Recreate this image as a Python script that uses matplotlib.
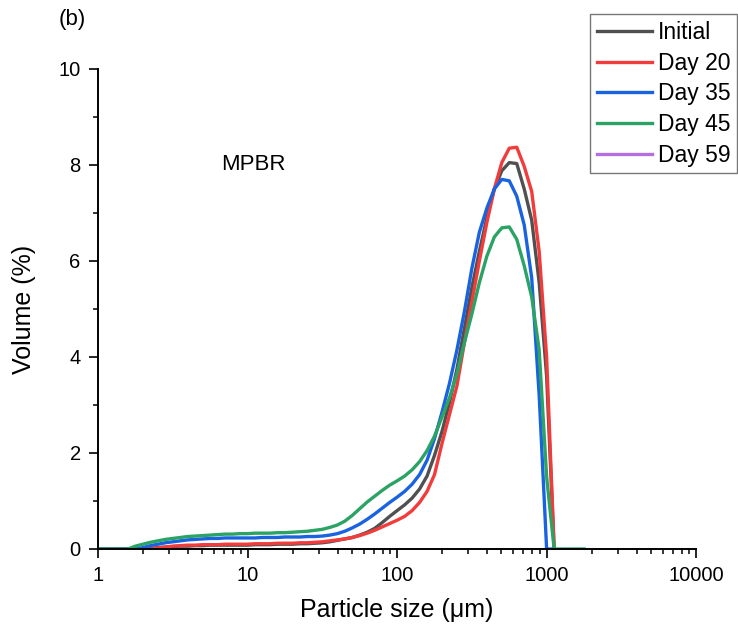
import numpy as np
import matplotlib
matplotlib.use("Agg")
import matplotlib.pyplot as plt
from matplotlib.ticker import LogLocator, FixedLocator, NullFormatter, MultipleLocator

plt.rcParams['font.family'] = ['Liberation Sans', 'DejaVu Sans']

nan = np.nan
# particle size classes (um)
sizes = [1.002, 1.125, 1.262, 1.416, 1.589, 1.782, 2.000, 2.244, 2.518, 2.825,
         3.170, 3.556, 3.990, 4.477, 5.023, 5.636, 6.324, 7.096, 7.962, 8.933,
         10.02, 11.25, 12.62, 14.16, 15.89, 17.82, 20.00, 22.44, 25.18, 28.25,
         31.70, 35.56, 39.90, 44.77, 50.23, 56.36, 63.24, 70.96, 79.62, 89.33,
         100.2, 112.5, 126.2, 141.6, 158.9, 178.2, 200.0, 224.4, 251.8, 282.5,
         317.0, 355.6, 399.0, 447.7, 502.3, 563.6, 632.4, 709.6, 796.2, 893.3,
         1002, 1125, 1262, 1416, 1589, 1782]

initial = [0, 0, 0, 0, 0, 0, 0, 0.01, 0.03, 0.04,
           0.05, 0.06, 0.06, 0.07, 0.07, 0.08, 0.08, 0.08, 0.08, 0.08,
           0.08, 0.09, 0.09, 0.09, 0.10, 0.10, 0.10, 0.11, 0.11, 0.12,
           0.13, 0.15, 0.18, 0.21, 0.24, 0.29, 0.35, 0.43, 0.55, 0.68,
           0.80, 0.92, 1.06, 1.25, 1.52, 1.95, 2.45, 3.05, 3.75, 4.60,
           5.45, 6.20, 6.90, 7.50, 7.88, 8.05, 8.03, 7.50, 6.85, 5.55,
           3.60, 0, nan, nan, nan, nan]

day20 = [0, 0, 0, 0, 0, 0, 0, 0, 0.02, 0.04,
         0.06, 0.07, 0.08, 0.08, 0.09, 0.09, 0.09, 0.10, 0.10, 0.10,
         0.10, 0.11, 0.11, 0.11, 0.12, 0.12, 0.12, 0.13, 0.13, 0.14,
         0.15, 0.17, 0.19, 0.21, 0.24, 0.28, 0.33, 0.39, 0.46, 0.53,
         0.60, 0.68, 0.80, 0.97, 1.20, 1.55, 2.20, 2.80, 3.40, 4.30,
         5.15, 6.00, 6.80, 7.50, 8.05, 8.35, 8.37, 7.97, 7.45, 6.20,
         4.00, 0, nan, nan, nan, nan]

day35 = [0, 0, 0, 0, 0, 0, 0.03, 0.07, 0.10, 0.13,
         0.15, 0.17, 0.19, 0.20, 0.21, 0.22, 0.22, 0.23, 0.23, 0.23,
         0.23, 0.23, 0.24, 0.24, 0.24, 0.25, 0.25, 0.25, 0.26, 0.26,
         0.27, 0.29, 0.32, 0.37, 0.44, 0.52, 0.62, 0.73, 0.85, 0.97,
         1.08, 1.20, 1.35, 1.55, 1.85, 2.30, 2.85, 3.45, 4.15, 4.95,
         5.85, 6.60, 7.10, 7.50, 7.70, 7.67, 7.35, 6.75, 5.65, 3.20,
         0, 0, nan, nan, nan, nan]

day45 = [0, 0, 0, 0, 0, 0.06, 0.10, 0.14, 0.17, 0.20,
         0.22, 0.24, 0.26, 0.27, 0.28, 0.29, 0.30, 0.31, 0.31, 0.32,
         0.32, 0.33, 0.33, 0.33, 0.34, 0.34, 0.35, 0.36, 0.37, 0.39,
         0.41, 0.45, 0.50, 0.58, 0.70, 0.84, 0.98, 1.10, 1.22, 1.33,
         1.42, 1.52, 1.65, 1.82, 2.05, 2.35, 2.75, 3.15, 3.65, 4.30,
         4.90, 5.55, 6.10, 6.50, 6.69, 6.71, 6.45, 5.90, 5.25, 4.15,
         1.50, 0, 0, 0, 0, 0]

day59 = []  # not visible in the figure

labels = ["Initial", "Day 20", "Day 35", "Day 45", "Day 59"]
colors = ["#505050", "#f23c3c", "#1a63e0", "#2aa364", "#b46ee0"]
xticks = [1, 10, 100, 1000, 10000]
xticklabels = ["1", "10", "100", "1000", "10000"]

fig = plt.figure(figsize=(7.38, 6.30), dpi=100)
ax = fig.add_axes([98/738, 1-549/630, (696-98)/738, (549-69)/630])

series = [initial, day20, day35, day45]
for vals, lab, col in zip(series, labels[:4], colors[:4]):
    ax.plot(sizes, vals, color=col, lw=2.4, label=lab, solid_joinstyle='round')
ax.plot(sizes[:len(day59)], day59, color=colors[4], lw=2.4, label=labels[4])

ax.set_xscale('log')
ax.set_xlim(1, 10000)
ax.set_ylim(0, 10)
ax.xaxis.set_major_locator(FixedLocator(xticks))
ax.set_xticklabels(xticklabels)
ax.xaxis.set_minor_locator(LogLocator(base=10, subs=np.arange(2, 10), numticks=20))
ax.xaxis.set_minor_formatter(NullFormatter())
ax.yaxis.set_major_locator(MultipleLocator(2))
ax.yaxis.set_minor_locator(MultipleLocator(1))

for s in ['top', 'right']:
    ax.spines[s].set_visible(False)
for s in ['left', 'bottom']:
    ax.spines[s].set_linewidth(1.4)
ax.tick_params(which='major', direction='out', length=6.5, width=1.2, labelsize=14.5, pad=6)
ax.tick_params(which='minor', direction='out', length=3.5, width=1.1)

ax.set_xlabel("Particle size (\u03bcm)", fontsize=18, labelpad=9)
ax.set_ylabel("Volume (%)", fontsize=18, labelpad=16)

ax.text(10.9, 8.0, "MPBR", fontsize=16, ha='center', va='center')
fig.text(72/738, 1-20/630, "(b)", fontsize=16, ha='center', va='center')

leg = fig.legend(loc='upper right', bbox_to_anchor=(0.999, 0.977), fontsize=16.5,
                 frameon=True, fancybox=False, edgecolor='#777777', framealpha=1,
                 handlelength=2.4, handletextpad=0.25, labelspacing=0.33,
                 borderpad=0.3, borderaxespad=0)
leg.get_frame().set_linewidth(1.0)

fig.savefig("out.png", dpi=100)
